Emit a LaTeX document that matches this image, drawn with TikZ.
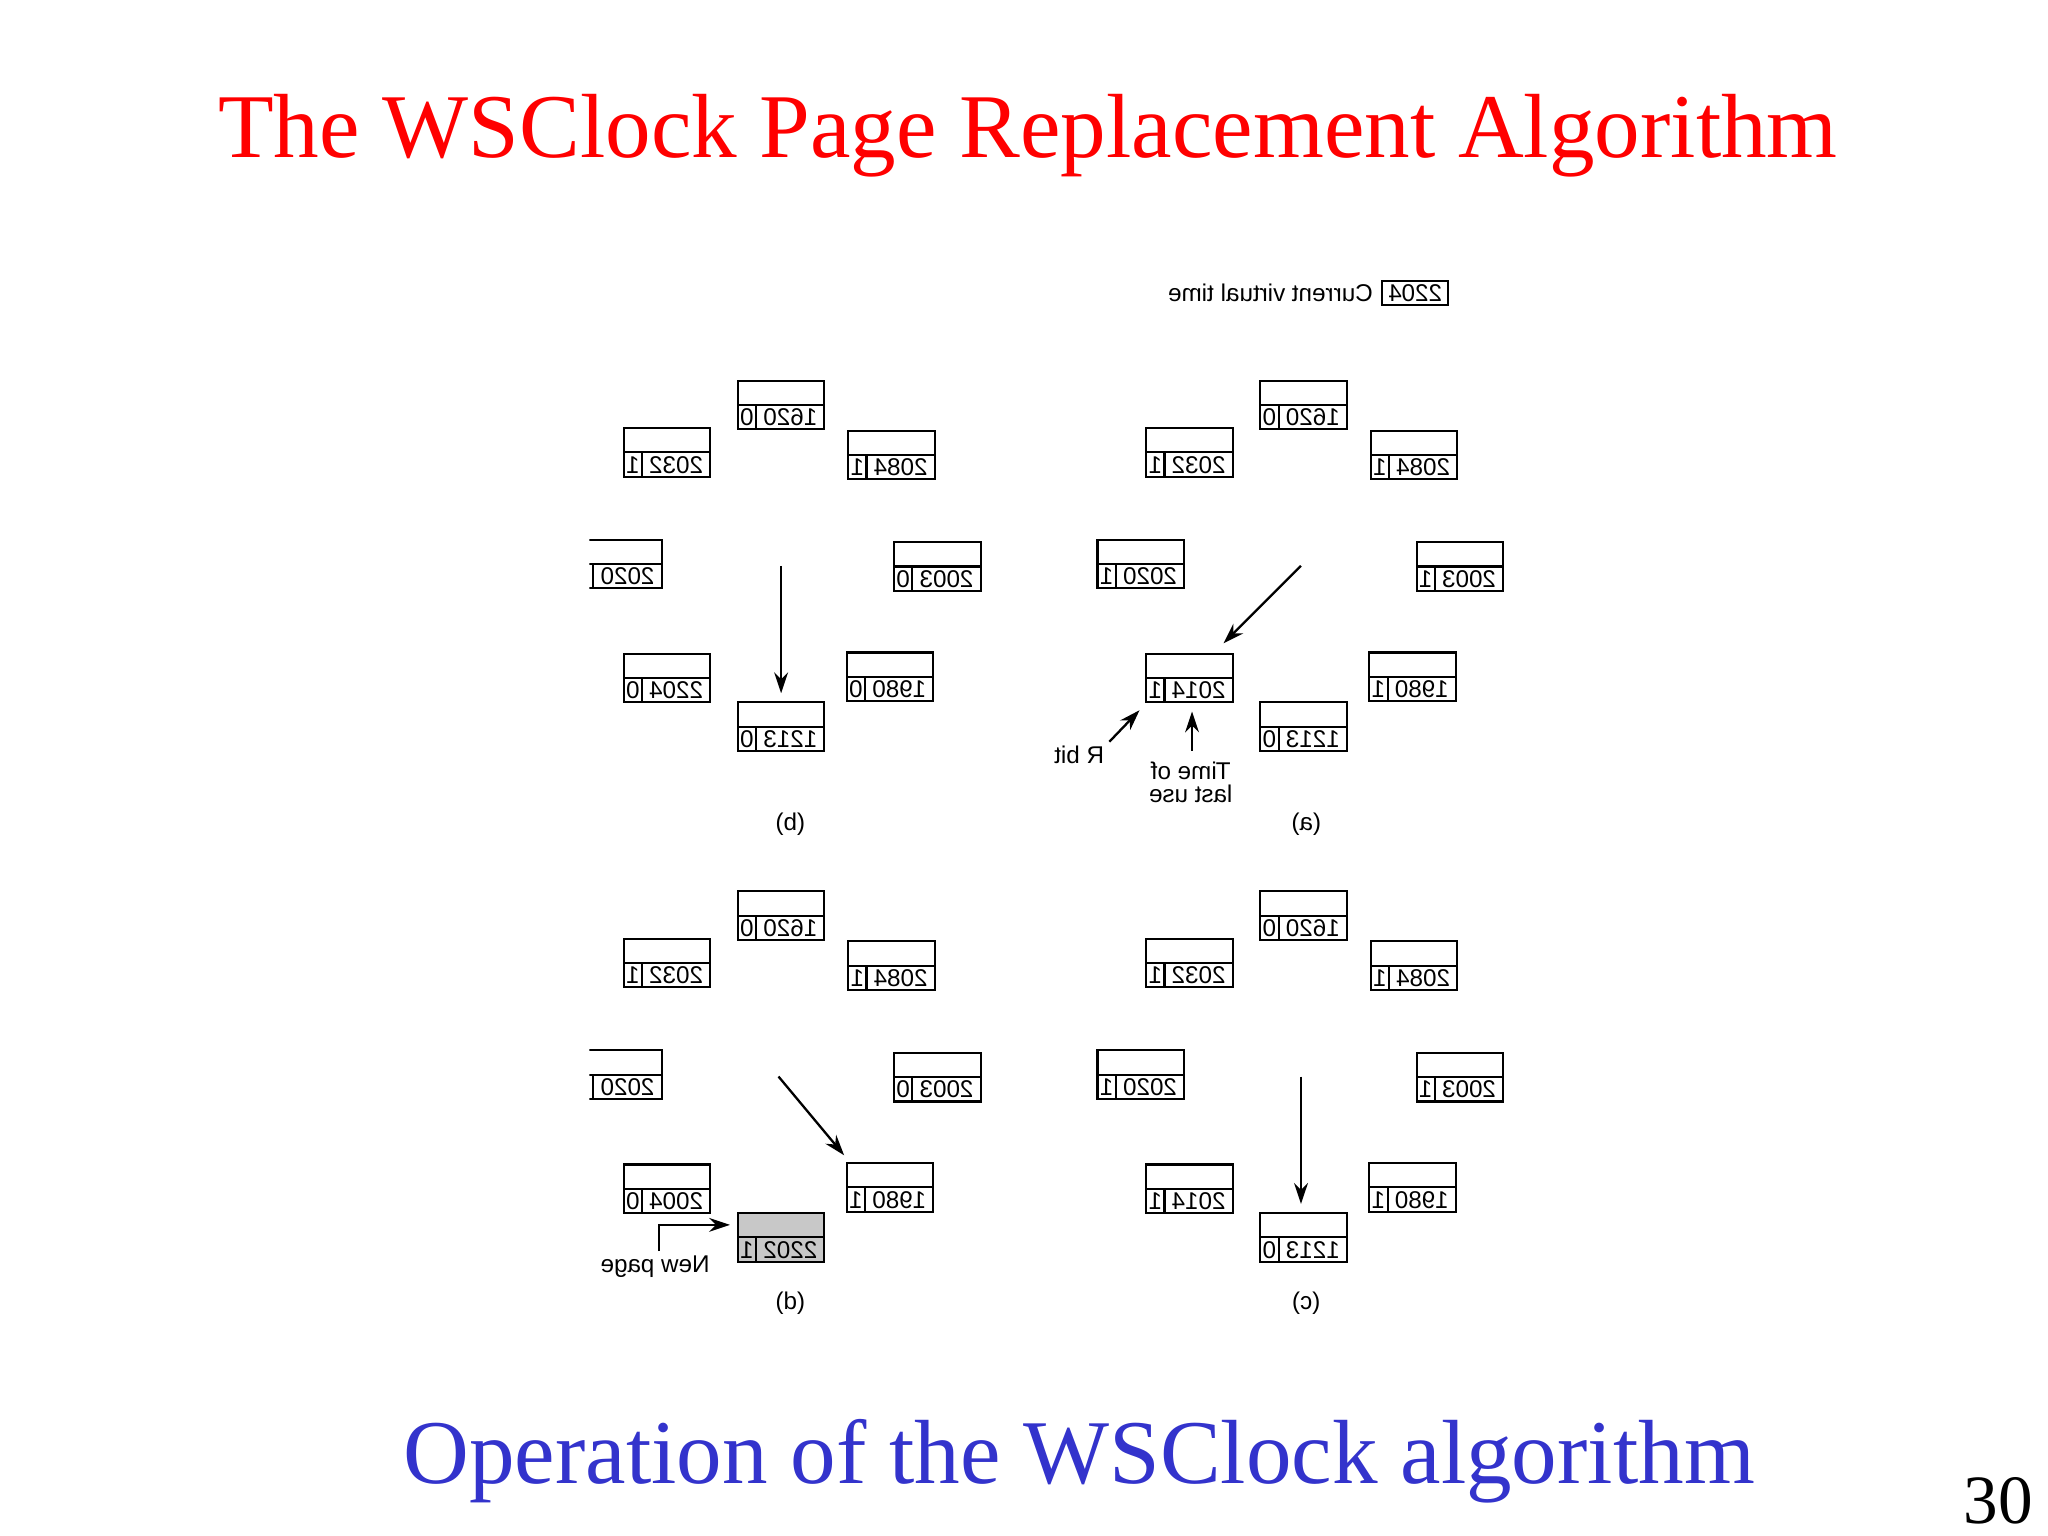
\documentclass[tikz,border=0pt]{standalone}
\usepackage{fontspec}
\setmainfont{Liberation Serif}
\newfontfamily\diag{Liberation Sans}
\usetikzlibrary{arrows.meta}
\newcommand\pgbox[6][]{%
  \draw[box,#1] (#3,#4) rectangle ++(66,37);
  \draw[box] (#3,#4+18.5) -- ++(66,0);
  \draw[box] (#3+14,#4+18.5) -- ++(0,18.5);
  \node[mir] (#2) at (#3+40,#4+28) {#5};
  \node[mir] (#2b) at (#3+7,#4+28) {#6};}
\begin{document}
\begin{tikzpicture}[x=0.02cm,y=-0.02cm,
  box/.style={line width=0.9pt},
  mir/.style={xscale=-1,inner sep=0pt,font=\diag\fontsize{10.5}{12}\selectfont},
  arr/.style={line width=1pt,-{Stealth[length=9pt,width=6pt]}}]
\useasboundingbox (0,0) rectangle (1560,1170);
\node[text=red,font=\fontsize{39.5}{46}\selectfont] (title) at (783,103) {The WSClock Page Replacement Algorithm};
\node[text={rgb,255:red,51;green,51;blue,204},font=\fontsize{39.5}{46}\selectfont] (sub) at (822,1113) {Operation of the WSClock algorithm};
\node[font=\fontsize{30}{34}\selectfont] (num) at (1522,1143) {30};
% panel (a)
\draw[box] (1053,214) rectangle (1103,232);
\node[mir] (cvt) at (1078,223) {2204};
\node[mir,anchor=west] (cvtl) at (1046,223) {Current virtual time};
\pgbox{a1}{960}{290}{1620}{0}
\pgbox{a2}{873}{326}{2032}{1}
\pgbox{a3}{1044}{328}{2084}{1}
\pgbox{a4}{836}{411}{2020}{1}
\pgbox{a5}{1079}{413}{2003}{1}
\pgbox{a6}{873}{498}{2014}{1}
\pgbox{a7}{1043}{497}{1980}{1}
\pgbox{a8}{960}{535}{1213}{0}
\coordinate (as) at (991,431); \coordinate (ae) at (932,490);
\draw[arr] (as) -- (ae);
\coordinate (rs) at (845,565); \coordinate (re) at (868,541);
\draw[arr] (rs) -- (re);
\node[mir] (rbit) at (822,575) {R bit};
\coordinate (ts) at (908,572); \coordinate (te) at (908,542);
\draw[arr] (ts) -- (te);
\node[mir] (t1) at (907,587) {Time of};
\node[mir] (t2) at (907,605) {last use};
\node[mir] (la) at (995,628) {(a)};
% panel top-left
\begin{scope}
\clip (449,250) rectangle (800,650);
\pgbox{d1}{562}{290}{1620}{0}
\pgbox{d2}{475}{326}{2032}{1}
\pgbox{d3}{646}{328}{2084}{1}
\pgbox{d4}{438}{411}{2020}{1}
\pgbox{d5}{681}{413}{2003}{0}
\pgbox{d6}{475}{498}{2204}{0}
\pgbox{d7}{645}{497}{1980}{0}
\pgbox{d8}{562}{535}{1213}{0}
\end{scope}
\coordinate (ds) at (595,431); \coordinate (de) at (595,528);
\draw[arr] (ds) -- (de);
\node[mir] (ld) at (602,628) {(b)};
% panel bottom-left
\begin{scope}
\clip (449,640) rectangle (800,1040);
\pgbox{b1}{562}{679}{1620}{0}
\pgbox{b2}{475}{715}{2032}{1}
\pgbox{b3}{646}{717}{2084}{1}
\pgbox{b4}{438}{800}{2020}{1}
\pgbox{b5}{681}{802}{2003}{0}
\pgbox{b6}{475}{887}{2004}{0}
\pgbox{b7}{645}{886}{1980}{1}
\pgbox[fill={rgb,255:red,200;green,200;blue,200}]{b8}{562}{924}{2202}{1}
\end{scope}
\coordinate (bs) at (593,820); \coordinate (be) at (643,880);
\draw[arr] (bs) -- (be);
\coordinate (ns) at (502,953); \coordinate (ne) at (556,933);
\draw[arr] (ns) |- (ne);
\node[mir] (np) at (499,965) {New page};
\node[mir] (lb) at (602,993) {(d)};
% panel (c)
\pgbox{c1}{960}{679}{1620}{0}
\pgbox{c2}{873}{715}{2032}{1}
\pgbox{c3}{1044}{717}{2084}{1}
\pgbox{c4}{836}{800}{2020}{1}
\pgbox{c5}{1079}{802}{2003}{1}
\pgbox{c6}{873}{887}{2014}{1}
\pgbox{c7}{1043}{886}{1980}{1}
\pgbox{c8}{960}{924}{1213}{0}
\coordinate (cs) at (991,820); \coordinate (ce) at (991,917);
\draw[arr] (cs) -- (ce);
\node[mir] (lc) at (995,993) {(c)};
\end{tikzpicture}
\end{document}
